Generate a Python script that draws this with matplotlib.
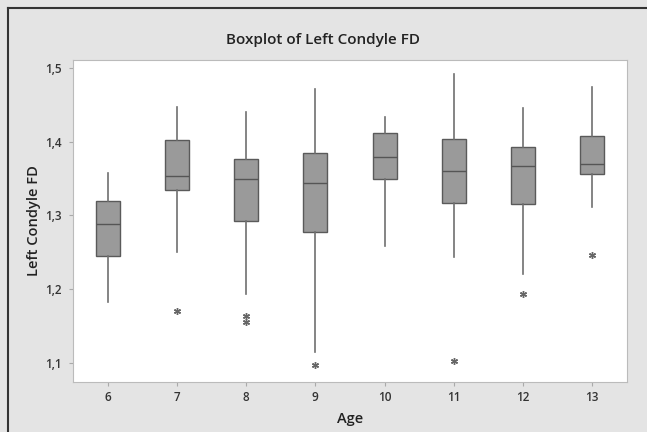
import matplotlib
matplotlib.use("Agg")
from matplotlib import pyplot as plt
from matplotlib.ticker import FuncFormatter
from matplotlib.lines import Line2D

plt.rcParams["font.family"] = ["Open Sans", "DejaVu Sans"]

ages = [6, 7, 8, 9, 10, 11, 12, 13]
whisker_low = [1.182, 1.251, 1.194, 1.115, 1.258, 1.244, 1.221, 1.312]
q1 = [1.245, 1.334, 1.293, 1.277, 1.349, 1.317, 1.315, 1.356]
medians = [1.289, 1.353, 1.349, 1.344, 1.380, 1.360, 1.367, 1.370]
q3 = [1.320, 1.402, 1.376, 1.385, 1.412, 1.404, 1.393, 1.408]
whisker_high = [1.358, 1.447, 1.441, 1.471, 1.434, 1.492, 1.446, 1.474]
outliers = [[], [1.171], [1.164, 1.156], [1.097], [], [1.103], [1.194], [1.247]]

stats = []
for i in range(len(ages)):
    stats.append({'whislo': whisker_low[i], 'q1': q1[i], 'med': medians[i],
                  'q3': q3[i], 'whishi': whisker_high[i], 'fliers': outliers[i]})

bg = "#e4e4e4"
fig = plt.figure(figsize=(6.47, 4.32), dpi=100, facecolor=bg)
ax = fig.add_axes([73/647, 1-382/432, (627-73)/647, (382-60)/432])
ax.set_facecolor("white")

ax.bxp(stats, positions=ages, widths=0.35, patch_artist=True, showcaps=False,
       boxprops={'facecolor': '#9a9a9a', 'edgecolor': '#5a5a5a', 'linewidth': 1.0},
       medianprops={'color': '#555555', 'linewidth': 1.0},
       whiskerprops={'color': '#707070', 'linewidth': 1.2},
       flierprops={'marker': (6, 2, 0), 'markersize': 5, 'markeredgecolor': '#666666',
                   'markerfacecolor': '#666666', 'markeredgewidth': 1.0})

ax.set_xlim(5.5, 13.5)
ax.set_ylim(1.074, 1.511)
ax.set_xticks(ages)
ax.set_xticklabels([str(a) for a in ages])
ax.set_yticks([1.1, 1.2, 1.3, 1.4, 1.5])
ax.yaxis.set_major_formatter(FuncFormatter(lambda v, p: f"{v:.1f}".replace(".", ",")))
ax.tick_params(labelsize=8.5, length=3, color="#aaaaaa", labelcolor="#333333")
ax.tick_params(axis="y", pad=5)
for lab in ax.get_xticklabels() + ax.get_yticklabels():
    lab.set_fontweight("semibold")
for s in ax.spines.values():
    s.set_color("#bbbbbb")

ax.set_xlabel("Age", fontsize=10.5, fontweight="semibold", color="#222222", labelpad=6)
ax.set_ylabel("Left Condyle FD", fontsize=10.5, fontweight="semibold", color="#222222")
ax.yaxis.set_label_coords(-0.058, 0.5)
fig.text(0.5, 1-40/432, "Boxplot of Left Condyle FD", ha="center", va="center",
         fontsize=11, fontweight="semibold", color="#222222")

# dark frame on top and left edge
fig.add_artist(Line2D([8/647, 1], [1-8/432, 1-8/432], color="#333333", linewidth=1.5))
fig.add_artist(Line2D([8/647, 8/647], [0, 1-8/432], color="#333333", linewidth=1.5))

fig.savefig("out.png", dpi=100, facecolor=bg)
